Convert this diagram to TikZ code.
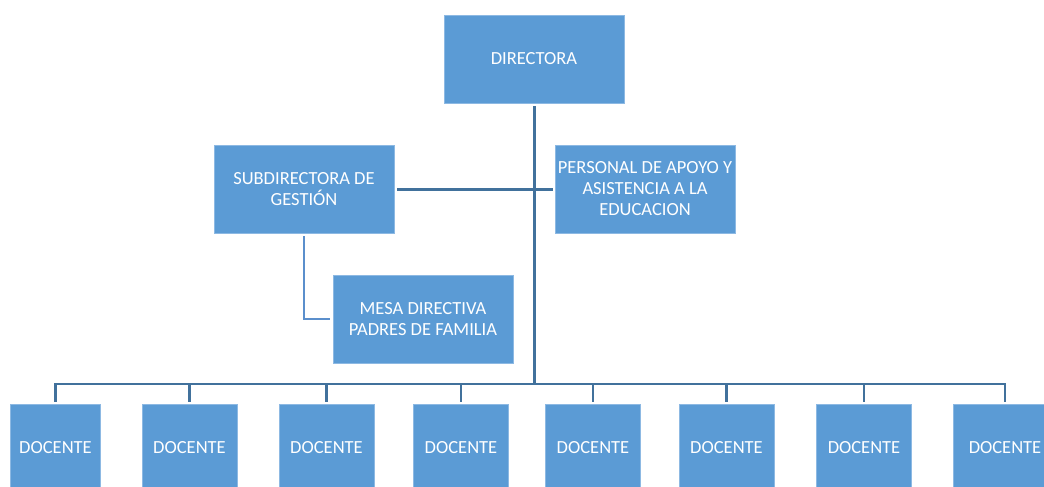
\documentclass[tikz,border=0pt]{standalone}
\usepackage{fontspec}
\setmainfont{Carlito}
\definecolor{boxblue}{HTML}{5B9BD5}
\definecolor{boxedge}{HTML}{8DB9E3}
\definecolor{linedark}{HTML}{41719C}
\definecolor{linelight}{HTML}{5B8FCC}
\begin{document}
\begin{tikzpicture}[x=1pt,y=-1pt,
  box/.style={rectangle, fill=boxblue, draw=boxedge, line width=0.6pt,
    text=white, font=\fontsize{18.5}{21}\selectfont, align=center,
    inner sep=0pt, outer sep=0pt, minimum height=88pt, minimum width=180pt},
  docbox/.style={box, minimum width=95pt},
  mainline/.style={draw=linedark, line width=3pt},
  subline/.style={draw=linelight, line width=2pt}
]
\clip (0,0) rectangle (1044,487);
\fill[white] (0,0) rectangle (1044,487);

\node[box] (dir) at (534,59) {DIRECTORA};
\node[box] (sub) at (304,189) {SUBDIRECTORA DE\\GESTIÓN};
\node[box] (per) at (645,189) {PERSONAL DE APOYO Y\\ASISTENCIA A LA\\EDUCACION};
\node[box] (mesa) at (423,319) {MESA DIRECTIVA\\PADRES DE FAMILIA};

\node[docbox, minimum width=90pt] (d1) at (55.5,448) {DOCENTE};
\node[docbox] (d2) at (189.5,448) {DOCENTE};
\node[docbox] (d3) at (326.5,448) {DOCENTE};
\node[docbox] (d4) at (461,448) {DOCENTE};
\node[docbox] (d5) at (593,448) {DOCENTE};
\node[docbox] (d6) at (726.5,448) {DOCENTE};
\node[docbox] (d7) at (864,448) {DOCENTE};
\node[docbox, minimum width=104pt] (d8) at (1005,448) {DOCENTE};

\coordinate (bus) at (534,384);
\coordinate (busL) at (55.5,384);
\coordinate (busR) at (1005,384);
\coordinate (mesaturn) at (304,319);

% main connectors
\draw[mainline, shorten <=3pt] (dir.south) -- (bus);
\draw[mainline, shorten <=3pt, shorten >=2pt] (sub.east) -- (per.west);
\draw[mainline, line cap=rect, line width=2.6pt] (busL) -- (busR);
\foreach \d in {d1,d2,d3,d4,d5,d6,d7,d8}
  \draw[mainline, line width=2.6pt, shorten >=2pt] (\d.north |- bus) -- (\d.north);

% subdirectora to mesa
\draw[subline, shorten <=3pt, shorten >=3pt] (sub.south) -- (mesaturn) -- (mesa.west);
\end{tikzpicture}
\end{document}
